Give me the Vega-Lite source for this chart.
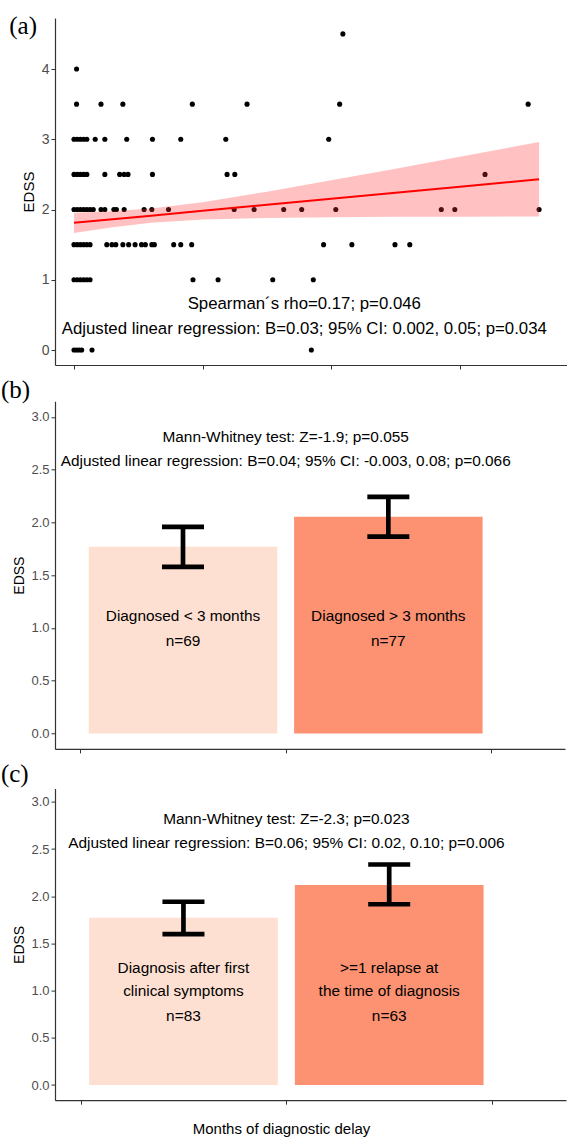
{
  "$schema": "https://vega.github.io/schema/vega-lite/v6.json",
  "padding": {"left": 0, "top": 14, "right": 0, "bottom": 0},
  "config": {
    "view": {"stroke": null},
    "font": "Liberation Sans",
    "axis": {"grid": false, "domainColor": "#333333", "tickColor": "#333333", "labelColor": "#4d4d4d", "titleColor": "#000000", "titleFontWeight": "normal", "labelFontSize": 13, "titleFontSize": 14, "tickSize": 4, "labelPadding": 2, "titlePadding": 4, "domainWidth": 1.2},
    "title": {"font": "Liberation Serif", "fontSize": 25, "fontWeight": "normal", "anchor": "start", "frame": "bounds", "baseline": "alphabetic", "color": "#000000", "dx": -12}
  },
  "datasets": {
    "pts": [
      {"delay": 0.4, "edss": 4},
      {"delay": 41.8, "edss": 4.5},
      {"delay": 0.4, "edss": 3.5}, {"delay": 4.2, "edss": 3.5}, {"delay": 7.6, "edss": 3.5}, {"delay": 18.4, "edss": 3.5}, {"delay": 26.9, "edss": 3.5}, {"delay": 41.3, "edss": 3.5}, {"delay": 70.6, "edss": 3.5},
      {"delay": 0, "edss": 3}, {"delay": 0.5, "edss": 3}, {"delay": 1, "edss": 3}, {"delay": 1.5, "edss": 3}, {"delay": 2, "edss": 3}, {"delay": 3.3, "edss": 3}, {"delay": 4.8, "edss": 3}, {"delay": 8.2, "edss": 3}, {"delay": 12.2, "edss": 3}, {"delay": 16.6, "edss": 3}, {"delay": 23.6, "edss": 3}, {"delay": 39.6, "edss": 3},
      {"delay": 0, "edss": 2.5}, {"delay": 0.5, "edss": 2.5}, {"delay": 1, "edss": 2.5}, {"delay": 1.5, "edss": 2.5}, {"delay": 2, "edss": 2.5}, {"delay": 4.8, "edss": 2.5}, {"delay": 7.1, "edss": 2.5}, {"delay": 7.8, "edss": 2.5}, {"delay": 8.4, "edss": 2.5}, {"delay": 12.2, "edss": 2.5}, {"delay": 23.8, "edss": 2.5}, {"delay": 25.0, "edss": 2.5}, {"delay": 63.9, "edss": 2.5},
      {"delay": 0, "edss": 2}, {"delay": 0.5, "edss": 2}, {"delay": 1, "edss": 2}, {"delay": 1.5, "edss": 2}, {"delay": 2, "edss": 2}, {"delay": 2.5, "edss": 2}, {"delay": 3, "edss": 2}, {"delay": 4.2, "edss": 2}, {"delay": 4.8, "edss": 2}, {"delay": 6.2, "edss": 2}, {"delay": 6.6, "edss": 2}, {"delay": 7.8, "edss": 2}, {"delay": 10.9, "edss": 2}, {"delay": 12.1, "edss": 2}, {"delay": 14.7, "edss": 2}, {"delay": 24.9, "edss": 2}, {"delay": 28.0, "edss": 2}, {"delay": 32.6, "edss": 2}, {"delay": 35.4, "edss": 2}, {"delay": 40.7, "edss": 2}, {"delay": 57.1, "edss": 2}, {"delay": 59.2, "edss": 2}, {"delay": 72.3, "edss": 2},
      {"delay": 0, "edss": 1.5}, {"delay": 0.5, "edss": 1.5}, {"delay": 1, "edss": 1.5}, {"delay": 1.5, "edss": 1.5}, {"delay": 2, "edss": 1.5}, {"delay": 2.5, "edss": 1.5}, {"delay": 5.1, "edss": 1.5}, {"delay": 5.9, "edss": 1.5}, {"delay": 6.5, "edss": 1.5}, {"delay": 7.6, "edss": 1.5}, {"delay": 8.5, "edss": 1.5}, {"delay": 9.5, "edss": 1.5}, {"delay": 10.5, "edss": 1.5}, {"delay": 11.1, "edss": 1.5}, {"delay": 12.1, "edss": 1.5}, {"delay": 12.5, "edss": 1.5}, {"delay": 15.5, "edss": 1.5}, {"delay": 16.6, "edss": 1.5}, {"delay": 18.3, "edss": 1.5}, {"delay": 38.8, "edss": 1.5}, {"delay": 43.2, "edss": 1.5}, {"delay": 49.9, "edss": 1.5}, {"delay": 52.2, "edss": 1.5},
      {"delay": 0, "edss": 1}, {"delay": 0.5, "edss": 1}, {"delay": 1, "edss": 1}, {"delay": 1.5, "edss": 1}, {"delay": 2, "edss": 1}, {"delay": 2.5, "edss": 1}, {"delay": 18.5, "edss": 1}, {"delay": 22.4, "edss": 1}, {"delay": 30.9, "edss": 1}, {"delay": 37.2, "edss": 1},
      {"delay": 0, "edss": 0}, {"delay": 0.4, "edss": 0}, {"delay": 0.8, "edss": 0}, {"delay": 1.2, "edss": 0}, {"delay": 2.8, "edss": 0}, {"delay": 36.9, "edss": 0}
    ],
    "band": [
      {"delay": 0, "fit": 1.81, "lo": 1.665, "hi": 1.955},
      {"delay": 6, "fit": 1.861, "lo": 1.747, "hi": 1.975},
      {"delay": 12, "fit": 1.913, "lo": 1.811, "hi": 2.015},
      {"delay": 20, "fit": 1.982, "lo": 1.859, "hi": 2.105},
      {"delay": 30, "fit": 2.067, "lo": 1.881, "hi": 2.253},
      {"delay": 40, "fit": 2.153, "lo": 1.891, "hi": 2.415},
      {"delay": 50, "fit": 2.239, "lo": 1.896, "hi": 2.582},
      {"delay": 60, "fit": 2.325, "lo": 1.898, "hi": 2.752},
      {"delay": 72.3, "fit": 2.43, "lo": 1.9, "hi": 2.96}
    ],
    "txtA": [
      {"delay": 35.8, "edss": 0.655, "label": "Spearman´s rho=0.17; p=0.046"},
      {"delay": 35.8, "edss": 0.295, "label": "Adjusted linear regression: B=0.03; 95% CI: 0.002, 0.05; p=0.034"}
    ],
    "barsB": [
      {"group": "Diagnosed < 3 months", "pos": 0.5, "mean": 1.769, "lo": 1.579, "hi": 1.958},
      {"group": "Diagnosed > 3 months", "pos": 1.5, "mean": 2.053, "lo": 1.866, "hi": 2.242}
    ],
    "txtB": [
      {"pos": 1.0, "edss": 2.811, "label": "Mann-Whitney test: Z=-1.9; p=0.055"},
      {"pos": 1.0, "edss": 2.58, "label": "Adjusted linear regression: B=0.04; 95% CI: -0.003, 0.08; p=0.066"},
      {"pos": 0.5, "edss": 1.111, "label": "Diagnosed < 3 months"},
      {"pos": 0.5, "edss": 0.874, "label": "n=69"},
      {"pos": 1.5, "edss": 1.111, "label": "Diagnosed > 3 months"},
      {"pos": 1.5, "edss": 0.874, "label": "n=77"}
    ],
    "barsC": [
      {"group": "Diagnosis after first clinical symptoms", "pos": 0.5, "mean": 1.771, "lo": 1.599, "hi": 1.941},
      {"group": ">=1 relapse at the time of diagnosis", "pos": 1.5, "mean": 2.118, "lo": 1.916, "hi": 2.336}
    ],
    "txtC": [
      {"pos": 1.0, "edss": 2.823, "label": "Mann-Whitney test: Z=-2.3; p=0.023"},
      {"pos": 1.0, "edss": 2.569, "label": "Adjusted linear regression: B=0.06; 95% CI: 0.02, 0.10; p=0.006"},
      {"pos": 0.5, "edss": 1.245, "label": "Diagnosis after first"},
      {"pos": 0.5, "edss": 0.995, "label": "clinical symptoms"},
      {"pos": 0.5, "edss": 0.734, "label": "n=83"},
      {"pos": 1.5, "edss": 1.245, "label": ">=1 relapse at"},
      {"pos": 1.5, "edss": 0.995, "label": "the time of diagnosis"},
      {"pos": 1.5, "edss": 0.734, "label": "n=63"}
    ]
  },
  "columns": 1,
  "align": "none",
  "spacing": 7.3,
  "concat": [
    {
      "width": 512,
      "height": 347,
      "title": {"text": "(a)", "offset": -21},
      "layer": [
        {
          "data": {"name": "pts"},
          "mark": {"type": "circle", "size": 26, "color": "#000000", "opacity": 1},
          "encoding": {
            "x": {"field": "delay", "type": "quantitative", "title": null, "scale": {"domain": [-2.95, 76.64], "nice": false, "zero": false}, "axis": {"values": [0, 20, 40, 60], "labels": false}},
            "y": {"field": "edss", "type": "quantitative", "title": "EDSS", "scale": {"domain": [-0.213, 4.726], "nice": false, "zero": false}, "axis": {"values": [0, 1, 2, 3, 4], "format": "d", "labelFontSize": 14, "titleFontSize": 15, "titlePadding": 5}}
          }
        },
        {
          "data": {"name": "band"},
          "mark": {"type": "area", "color": "#ff3333", "opacity": 0.3},
          "encoding": {
            "x": {"field": "delay", "type": "quantitative", "title": null},
            "y": {"field": "lo", "type": "quantitative", "title": "EDSS"},
            "y2": {"field": "hi"}
          }
        },
        {
          "data": {"name": "band"},
          "mark": {"type": "line", "color": "#ff0000", "strokeWidth": 2},
          "encoding": {
            "x": {"field": "delay", "type": "quantitative", "title": null},
            "y": {"field": "fit", "type": "quantitative", "title": "EDSS"}
          }
        },
        {
          "data": {"name": "txtA"},
          "mark": {"type": "text", "fontSize": 16.8, "color": "#000000", "baseline": "middle", "align": "center"},
          "encoding": {
            "x": {"field": "delay", "type": "quantitative", "title": null},
            "y": {"field": "edss", "type": "quantitative", "title": "EDSS"},
            "text": {"field": "label"}
          }
        }
      ]
    },
    {
      "width": 510,
      "height": 347.6,
      "title": {"text": "(b)", "offset": -1.3},
      "layer": [
        {
          "data": {"name": "barsB"},
          "mark": {"type": "bar", "width": 188.5},
          "encoding": {
            "x": {"field": "pos", "type": "quantitative", "title": null, "scale": {"domain": [-0.099, 2.336], "nice": false, "zero": false}, "axis": {"values": [0, 1, 2], "labels": false}},
            "y": {"field": "mean", "type": "quantitative", "title": "EDSS", "scale": {"domain": [-0.146, 3.148], "nice": false, "zero": false}, "axis": {"values": [0, 0.5, 1, 1.5, 2, 2.5, 3], "format": ".1f"}},
            "y2": {"datum": 0},
            "color": {"field": "group", "type": "nominal", "scale": {"domain": ["Diagnosed < 3 months", "Diagnosed > 3 months"], "range": ["#fee0d2", "#fc9272"]}, "legend": null}
          }
        },
        {
          "data": {"name": "barsB"},
          "mark": {"type": "rule", "color": "#000000", "strokeWidth": 4.7},
          "encoding": {
            "x": {"field": "pos", "type": "quantitative", "title": null},
            "y": {"field": "lo", "type": "quantitative", "title": "EDSS"},
            "y2": {"field": "hi"}
          }
        },
        {
          "data": {"name": "barsB"},
          "mark": {"type": "tick", "orient": "horizontal", "size": 42, "thickness": 4.6, "color": "#000000", "opacity": 1},
          "encoding": {
            "x": {"field": "pos", "type": "quantitative", "title": null},
            "y": {"field": "lo", "type": "quantitative", "title": "EDSS"}
          }
        },
        {
          "data": {"name": "barsB"},
          "mark": {"type": "tick", "orient": "horizontal", "size": 42, "thickness": 4.6, "color": "#000000", "opacity": 1},
          "encoding": {
            "x": {"field": "pos", "type": "quantitative", "title": null},
            "y": {"field": "hi", "type": "quantitative", "title": "EDSS"}
          }
        },
        {
          "data": {"name": "txtB"},
          "mark": {"type": "text", "fontSize": 15.4, "color": "#000000", "baseline": "middle", "align": "center"},
          "encoding": {
            "x": {"field": "pos", "type": "quantitative", "title": null},
            "y": {"field": "edss", "type": "quantitative", "title": "EDSS"},
            "text": {"field": "label"}
          }
        }
      ]
    },
    {
      "width": 511,
      "height": 311.6,
      "title": {"text": "(c)", "offset": 1.5},
      "layer": [
        {
          "data": {"name": "barsC"},
          "mark": {"type": "bar", "width": 188.7},
          "encoding": {
            "x": {"field": "pos", "type": "quantitative", "title": "Months of diagnostic delay", "scale": {"domain": [-0.1, 2.335], "nice": false, "zero": false}, "axis": {"values": [0, 1, 2], "labels": false, "titleFontSize": 15, "titlePadding": 17, "titleX": 226}},
            "y": {"field": "mean", "type": "quantitative", "title": "EDSS", "scale": {"domain": [-0.16, 3.14], "nice": false, "zero": false}, "axis": {"values": [0, 0.5, 1, 1.5, 2, 2.5, 3], "format": ".1f"}},
            "y2": {"datum": 0},
            "color": {"field": "group", "type": "nominal", "scale": {"domain": ["Diagnosis after first clinical symptoms", ">=1 relapse at the time of diagnosis"], "range": ["#fee0d2", "#fc9272"]}, "legend": null}
          }
        },
        {
          "data": {"name": "barsC"},
          "mark": {"type": "rule", "color": "#000000", "strokeWidth": 4.7},
          "encoding": {
            "x": {"field": "pos", "type": "quantitative", "title": "Months of diagnostic delay"},
            "y": {"field": "lo", "type": "quantitative", "title": "EDSS"},
            "y2": {"field": "hi"}
          }
        },
        {
          "data": {"name": "barsC"},
          "mark": {"type": "tick", "orient": "horizontal", "size": 42, "thickness": 4.6, "color": "#000000", "opacity": 1},
          "encoding": {
            "x": {"field": "pos", "type": "quantitative", "title": "Months of diagnostic delay"},
            "y": {"field": "lo", "type": "quantitative", "title": "EDSS"}
          }
        },
        {
          "data": {"name": "barsC"},
          "mark": {"type": "tick", "orient": "horizontal", "size": 42, "thickness": 4.6, "color": "#000000", "opacity": 1},
          "encoding": {
            "x": {"field": "pos", "type": "quantitative", "title": "Months of diagnostic delay"},
            "y": {"field": "hi", "type": "quantitative", "title": "EDSS"}
          }
        },
        {
          "data": {"name": "txtC"},
          "mark": {"type": "text", "fontSize": 15.4, "color": "#000000", "baseline": "middle", "align": "center"},
          "encoding": {
            "x": {"field": "pos", "type": "quantitative", "title": "Months of diagnostic delay"},
            "y": {"field": "edss", "type": "quantitative", "title": "EDSS"},
            "text": {"field": "label"}
          }
        }
      ]
    }
  ]
}
